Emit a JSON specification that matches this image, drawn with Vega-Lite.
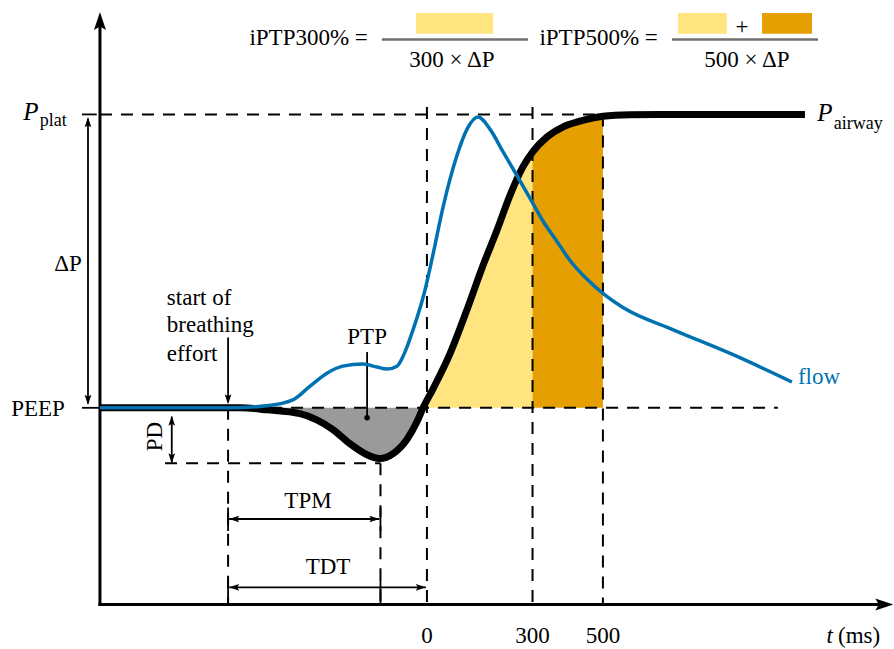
{
  "$schema": "https://vega.github.io/schema/vega-lite/v6.json",
  "width": 894,
  "height": 649,
  "autosize": {"type": "fit", "contains": "padding"},
  "padding": 0,
  "background": "white",
  "config": {"view": {"stroke": null}, "font": "Liberation Serif"},
  "datasets": {
    "pairway": [
      {"x": -929, "y": 0}, {"x": -531, "y": 0}, {"x": -455, "y": -0.07}, {"x": -361, "y": -0.2},
      {"x": -313, "y": -0.41}, {"x": -267, "y": -0.74}, {"x": -219, "y": -1.22}, {"x": -170, "y": -1.6},
      {"x": -152, "y": -1.69}, {"x": -134, "y": -1.73}, {"x": -116, "y": -1.69}, {"x": -97, "y": -1.57},
      {"x": -57, "y": -1.08}, {"x": -28, "y": -0.47},
      {"x": -11, "y": 0}, {"x": 17, "y": 0.64}, {"x": 65, "y": 1.83}, {"x": 114, "y": 3.35},
      {"x": 159, "y": 4.84}, {"x": 199, "y": 6.05}, {"x": 236, "y": 7.24}, {"x": 273, "y": 8.22},
      {"x": 301, "y": 8.73}, {"x": 341, "y": 9.23}, {"x": 386, "y": 9.57}, {"x": 435, "y": 9.77},
      {"x": 500, "y": 9.94}, {"x": 577, "y": 9.99}, {"x": 662, "y": 10}, {"x": 1074, "y": 10}
    ],
    "flow": [
      {"x": -929, "y": 0}, {"x": -565, "y": 0}, {"x": -455, "y": 0.07}, {"x": -381, "y": 0.27},
      {"x": -332, "y": 0.74}, {"x": -284, "y": 1.18}, {"x": -239, "y": 1.42}, {"x": -182, "y": 1.49},
      {"x": -142, "y": 1.39}, {"x": -114, "y": 1.32}, {"x": -85, "y": 1.42}, {"x": -65, "y": 1.83},
      {"x": -40, "y": 2.64}, {"x": -6, "y": 3.99}, {"x": 17, "y": 5.21}, {"x": 45, "y": 6.8},
      {"x": 85, "y": 8.59}, {"x": 114, "y": 9.5}, {"x": 145, "y": 9.91}, {"x": 179, "y": 9.5},
      {"x": 216, "y": 8.73}, {"x": 256, "y": 7.91}, {"x": 293, "y": 7.14}, {"x": 330, "y": 6.36},
      {"x": 369, "y": 5.68}, {"x": 406, "y": 5.03}, {"x": 455, "y": 4.38}, {"x": 500, "y": 3.9},
      {"x": 557, "y": 3.42}, {"x": 700, "y": 2.66}, {"x": 870, "y": 1.81}, {"x": 1037, "y": 0.88}
    ],
    "areas": [
      {"region": "PTP", "x": -470, "y": 0}, {"region": "PTP", "x": -455, "y": -0.07},
      {"region": "PTP", "x": -361, "y": -0.2}, {"region": "PTP", "x": -313, "y": -0.41},
      {"region": "PTP", "x": -267, "y": -0.74}, {"region": "PTP", "x": -219, "y": -1.22},
      {"region": "PTP", "x": -170, "y": -1.6}, {"region": "PTP", "x": -152, "y": -1.69},
      {"region": "PTP", "x": -134, "y": -1.73}, {"region": "PTP", "x": -116, "y": -1.69},
      {"region": "PTP", "x": -97, "y": -1.57}, {"region": "PTP", "x": -57, "y": -1.08},
      {"region": "PTP", "x": -28, "y": -0.47}, {"region": "PTP", "x": -11, "y": 0},
      {"region": "iPTP300", "x": -11, "y": 0}, {"region": "iPTP300", "x": 17, "y": 0.64},
      {"region": "iPTP300", "x": 65, "y": 1.83}, {"region": "iPTP300", "x": 114, "y": 3.35},
      {"region": "iPTP300", "x": 159, "y": 4.84}, {"region": "iPTP300", "x": 199, "y": 6.05},
      {"region": "iPTP300", "x": 236, "y": 7.24}, {"region": "iPTP300", "x": 273, "y": 8.22},
      {"region": "iPTP300", "x": 300, "y": 8.71},
      {"region": "iPTP500", "x": 300, "y": 8.71}, {"region": "iPTP500", "x": 341, "y": 9.23},
      {"region": "iPTP500", "x": 386, "y": 9.57}, {"region": "iPTP500", "x": 435, "y": 9.77},
      {"region": "iPTP500", "x": 500, "y": 9.94}
    ],
    "boxes": [
      {"region": "iPTP300", "x": -31, "x2": 188, "y": 13.46, "y2": 12.75},
      {"region": "iPTP300", "x": 713, "x2": 852, "y": 13.46, "y2": 12.75},
      {"region": "iPTP500", "x": 952, "x2": 1094, "y": 13.46, "y2": 12.75}
    ],
    "segments": [
      {"kind": "axis", "x": -929, "y": -6.7, "x2": -929, "y2": 13.0},
      {"kind": "axis", "x": -929, "y": -6.7, "x2": 1290, "y2": -6.7},
      {"kind": "dash", "x": -929, "y": 10, "x2": 500, "y2": 10},
      {"kind": "dash", "x": -565, "y": 0, "x2": 997, "y2": 0},
      {"kind": "dash", "x": -744, "y": -1.89, "x2": -132, "y2": -1.89},
      {"kind": "dash", "x": -565, "y": 0, "x2": -565, "y2": -6.7},
      {"kind": "dash", "x": -132, "y": -1.89, "x2": -132, "y2": -6.7},
      {"kind": "dash", "x": 0, "y": 10.25, "x2": 0, "y2": -6.7},
      {"kind": "dash", "x": 300, "y": 10.25, "x2": 300, "y2": -6.7},
      {"kind": "dash", "x": 500, "y": 10, "x2": 500, "y2": -6.7},
      {"kind": "thin", "x": -963, "y": 0.15, "x2": -963, "y2": 9.85},
      {"kind": "thin", "x": -980, "y": 10, "x2": -938, "y2": 10},
      {"kind": "thin", "x": -980, "y": 0, "x2": -929, "y2": 0},
      {"kind": "thin", "x": -725, "y": -0.3, "x2": -725, "y2": -1.86},
      {"kind": "thin", "x": -565, "y": 2.4, "x2": -565, "y2": 0.2},
      {"kind": "thin", "x": -562, "y": -3.79, "x2": -135, "y2": -3.79},
      {"kind": "thin", "x": -562, "y": -6.12, "x2": -3, "y2": -6.12},
      {"kind": "thin", "x": -565, "y": -3.4, "x2": -565, "y2": -4.2},
      {"kind": "thin", "x": -132, "y": -3.4, "x2": -132, "y2": -4.2},
      {"kind": "thin", "x": -565, "y": -5.85, "x2": -565, "y2": -6.7},
      {"kind": "thin", "x": -132, "y": -5.85, "x2": -132, "y2": -6.7},
      {"kind": "thin", "x": -170, "y": 1.9, "x2": -170, "y2": -0.34},
      {"kind": "bar", "x": -128, "y": 12.55, "x2": 287, "y2": 12.55},
      {"kind": "bar", "x": 696, "y": 12.55, "x2": 1111, "y2": 12.55}
    ],
    "heads": [
      {"kind": "big", "x": -929, "y": 13.49, "dir": "up"},
      {"kind": "big", "x": 1325, "y": -6.7, "dir": "right"},
      {"kind": "small", "x": -963, "y": 9.91, "dir": "up"},
      {"kind": "small", "x": -963, "y": 0.1, "dir": "down"},
      {"kind": "small", "x": -725, "y": -0.27, "dir": "up"},
      {"kind": "small", "x": -725, "y": -1.89, "dir": "down"},
      {"kind": "small", "x": -565, "y": 0.12, "dir": "down"},
      {"kind": "small", "x": -562, "y": -3.79, "dir": "left"},
      {"kind": "small", "x": -135, "y": -3.79, "dir": "right"},
      {"kind": "small", "x": -562, "y": -6.12, "dir": "left"},
      {"kind": "small", "x": -3, "y": -6.12, "dir": "right"}
    ],
    "dots": [{"x": -170, "y": -0.34}],
    "labels": [
      {"group": "c", "text": "PEEP", "x": -1105, "y": -0.03},
      {"group": "c", "text": "ΔP", "x": -1020, "y": 4.9},
      {"group": "c", "text": "PTP", "x": -170, "y": 2.4},
      {"group": "c", "text": "TPM", "x": -338, "y": -3.18},
      {"group": "c", "text": "TDT", "x": -281, "y": -5.41},
      {"group": "c", "text": "0", "x": 0, "y": -7.78},
      {"group": "c", "text": "300", "x": 300, "y": -7.78},
      {"group": "c", "text": "500", "x": 500, "y": -7.78},
      {"group": "c", "text": "300 × ΔP", "x": 71, "y": 11.84},
      {"group": "c", "text": "500 × ΔP", "x": 909, "y": 11.84},
      {"group": "c", "text": "+", "x": 895, "y": 12.99},
      {"group": "l", "text": "start of", "x": -739, "y": 3.75},
      {"group": "l", "text": "breathing", "x": -739, "y": 2.81},
      {"group": "l", "text": "effort", "x": -739, "y": 1.83},
      {"group": "l", "text": "(ms)", "x": 1168, "y": -7.78},
      {"group": "r", "text": "iPTP300% =", "x": -168, "y": 12.62},
      {"group": "r", "text": "iPTP500% =", "x": 656, "y": 12.62},
      {"group": "flow", "text": "flow", "x": 1054, "y": 1.05},
      {"group": "sub", "text": "plat", "x": -1100, "y": 9.77},
      {"group": "sub", "text": "airway", "x": 1156, "y": 9.67},
      {"group": "ital", "text": "P", "x": -1125, "y": 10.08},
      {"group": "ital", "text": "P", "x": 1131, "y": 10.04},
      {"group": "italsmall", "text": "t", "x": 1144, "y": -7.78},
      {"group": "rot", "text": "PD", "x": -773, "y": -0.98}
    ]
  },
  "encoding": {
    "x": {"field": "x", "type": "quantitative", "scale": {"domain": [-1213, 1327], "nice": false, "zero": false}, "axis": null},
    "y": {"field": "y", "type": "quantitative", "scale": {"domain": [-8.05, 13.9], "nice": false, "zero": false}, "axis": null}
  },
  "layer": [
    {
      "data": {"name": "areas"},
      "mark": {"type": "area", "interpolate": "monotone", "opacity": 1},
      "encoding": {
        "y": {"field": "y", "type": "quantitative", "stack": null, "scale": {"domain": [-8.05, 13.9], "nice": false, "zero": false}, "axis": null},
        "y2": {"datum": 0},
        "color": {"field": "region", "type": "nominal", "legend": null,
          "scale": {"domain": ["PTP", "iPTP300", "iPTP500"], "range": ["#9a9a9a", "#FFE47F", "#E69F00"]}}
      }
    },
    {
      "data": {"name": "boxes"},
      "mark": {"type": "rect", "opacity": 1},
      "encoding": {
        "x2": {"field": "x2"},
        "y2": {"field": "y2"},
        "color": {"field": "region", "type": "nominal", "legend": null,
          "scale": {"domain": ["PTP", "iPTP300", "iPTP500"], "range": ["#9a9a9a", "#FFE47F", "#E69F00"]}}
      }
    },
    {
      "data": {"name": "segments"},
      "transform": [{"filter": "datum.kind === 'dash'"}],
      "mark": {"type": "rule", "color": "black", "strokeWidth": 2, "strokeDash": [12, 9]},
      "encoding": {"x2": {"field": "x2"}, "y2": {"field": "y2"}}
    },
    {
      "data": {"name": "segments"},
      "transform": [{"filter": "datum.kind === 'thin'"}],
      "mark": {"type": "rule", "color": "black", "strokeWidth": 1.8},
      "encoding": {"x2": {"field": "x2"}, "y2": {"field": "y2"}}
    },
    {
      "data": {"name": "segments"},
      "transform": [{"filter": "datum.kind === 'axis'"}],
      "mark": {"type": "rule", "color": "black", "strokeWidth": 3, "strokeCap": "square"},
      "encoding": {"x2": {"field": "x2"}, "y2": {"field": "y2"}}
    },
    {
      "data": {"name": "segments"},
      "transform": [{"filter": "datum.kind === 'bar'"}],
      "mark": {"type": "rule", "color": "#707070", "strokeWidth": 2.5},
      "encoding": {"x2": {"field": "x2"}, "y2": {"field": "y2"}}
    },
    {
      "data": {"name": "pairway"},
      "mark": {"type": "line", "color": "black", "strokeWidth": 7, "interpolate": "monotone"},
      "encoding": {}
    },
    {
      "data": {"name": "flow"},
      "mark": {"type": "line", "color": "#0072B2", "strokeWidth": 3.5, "interpolate": "monotone"},
      "encoding": {}
    },
    {
      "data": {"name": "heads"},
      "transform": [{"filter": "datum.kind === 'big'"}],
      "mark": {"type": "point", "filled": true, "color": "black", "opacity": 1, "size": 400, "strokeWidth": 0},
      "encoding": {
        "shape": {"field": "dir", "type": "nominal", "legend": null,
          "scale": {"domain": ["up", "down", "left", "right"],
            "range": ["M0,0L0.6,1.8L0,1.45L-0.6,1.8Z", "M0,0L0.6,-1.8L0,-1.45L-0.6,-1.8Z", "M0,0L1.8,0.6L1.45,0L1.8,-0.6Z", "M0,0L-1.8,0.6L-1.45,0L-1.8,-0.6Z"]}}
      }
    },
    {
      "data": {"name": "heads"},
      "transform": [{"filter": "datum.kind === 'small'"}],
      "mark": {"type": "point", "filled": true, "color": "black", "opacity": 1, "size": 125, "strokeWidth": 0},
      "encoding": {
        "shape": {"field": "dir", "type": "nominal", "legend": null,
          "scale": {"domain": ["up", "down", "left", "right"],
            "range": ["M0,0L0.6,1.8L0,1.45L-0.6,1.8Z", "M0,0L0.6,-1.8L0,-1.45L-0.6,-1.8Z", "M0,0L1.8,0.6L1.45,0L1.8,-0.6Z", "M0,0L-1.8,0.6L-1.45,0L-1.8,-0.6Z"]}}
      }
    },
    {
      "data": {"name": "dots"},
      "mark": {"type": "point", "shape": "circle", "filled": true, "color": "black", "opacity": 1, "size": 30},
      "encoding": {}
    },
    {
      "data": {"name": "labels"},
      "transform": [{"filter": "datum.group === 'c'"}],
      "mark": {"type": "text", "font": "Liberation Serif", "fontSize": 23, "align": "center", "baseline": "middle", "color": "black"},
      "encoding": {"text": {"field": "text"}}
    },
    {
      "data": {"name": "labels"},
      "transform": [{"filter": "datum.group === 'l'"}],
      "mark": {"type": "text", "font": "Liberation Serif", "fontSize": 23, "align": "left", "baseline": "middle", "color": "black"},
      "encoding": {"text": {"field": "text"}}
    },
    {
      "data": {"name": "labels"},
      "transform": [{"filter": "datum.group === 'r'"}],
      "mark": {"type": "text", "font": "Liberation Serif", "fontSize": 23, "align": "right", "baseline": "middle", "color": "black"},
      "encoding": {"text": {"field": "text"}}
    },
    {
      "data": {"name": "labels"},
      "transform": [{"filter": "datum.group === 'flow'"}],
      "mark": {"type": "text", "font": "Liberation Serif", "fontSize": 23, "align": "left", "baseline": "middle", "color": "#0072B2"},
      "encoding": {"text": {"field": "text"}}
    },
    {
      "data": {"name": "labels"},
      "transform": [{"filter": "datum.group === 'sub'"}],
      "mark": {"type": "text", "font": "Liberation Serif", "fontSize": 18, "align": "left", "baseline": "middle", "color": "black"},
      "encoding": {"text": {"field": "text"}}
    },
    {
      "data": {"name": "labels"},
      "transform": [{"filter": "datum.group === 'ital'"}],
      "mark": {"type": "text", "font": "Liberation Serif", "fontSize": 25, "fontStyle": "italic", "align": "center", "baseline": "middle", "color": "black"},
      "encoding": {"text": {"field": "text"}}
    },
    {
      "data": {"name": "labels"},
      "transform": [{"filter": "datum.group === 'italsmall'"}],
      "mark": {"type": "text", "font": "Liberation Serif", "fontSize": 23, "fontStyle": "italic", "align": "center", "baseline": "middle", "color": "black"},
      "encoding": {"text": {"field": "text"}}
    },
    {
      "data": {"name": "labels"},
      "transform": [{"filter": "datum.group === 'rot'"}],
      "mark": {"type": "text", "font": "Liberation Serif", "fontSize": 23, "align": "center", "baseline": "middle", "angle": 270, "color": "black"},
      "encoding": {"text": {"field": "text"}}
    }
  ]
}
